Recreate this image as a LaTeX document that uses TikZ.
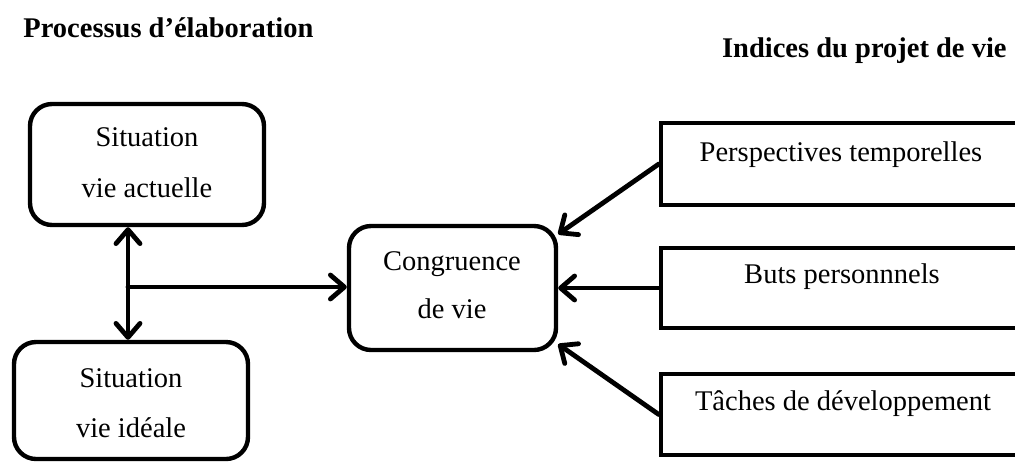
\documentclass[tikz,border=0pt]{standalone}
\usepackage{fontspec}
\setmainfont{Liberation Serif}
\usetikzlibrary{arrows.meta}
\begin{document}
\begin{tikzpicture}[x=0.5pt,y=-0.5pt,
  rbox/.style={draw,line width=2.2pt,rounded corners=11pt,inner sep=0pt},
  sbox/.style={draw,line width=2.2pt,inner sep=0pt},
  txt/.style={anchor=base,inner sep=0pt,font=\fontsize{14.25}{17}\selectfont},
  ttl/.style={inner sep=0pt,font=\fontsize{14.25}{17}\selectfont\bfseries},
  tip/.style={Straight Barb[round,length=7pt,width=12pt]},
  arr/.style={line width=2.4pt,line cap=round,-{Straight Barb[round,length=7pt,width=12pt]}},
  darr/.style={line width=2.4pt,line cap=round,{Straight Barb[round,length=7pt,width=12pt]}-{Straight Barb[round,length=7pt,width=12pt]}}]
\useasboundingbox (0,0) rectangle (1015,462);
\clip (0,0) rectangle (1015,462);
% titles
\node[ttl,anchor=base west] (t1) at (23,37) {Processus d’élaboration};
\node[ttl,anchor=base east] (t2) at (1007,57) {Indices du projet de vie};
% boxes
\node[rbox,minimum width=117pt,minimum height=60.5pt] (A) at (147,164.5) {};
\node[rbox,minimum width=117pt,minimum height=58.5pt] (B) at (131,400.5) {};
\node[rbox,minimum width=103.5pt,minimum height=62pt] (C) at (452.5,288) {};
\node[sbox,minimum width=189.5pt,minimum height=41pt] (D1) at (850.5,164) {};
\node[sbox,minimum width=189.5pt,minimum height=40pt] (D2) at (850.5,288) {};
\node[sbox,minimum width=189.5pt,minimum height=40.5pt] (D3) at (850.5,414.5) {};
% texts
\node[txt] (a1) at (147,146) {Situation};
\node[txt] (a2) at (147,197) {vie actuelle};
\node[txt] (b1) at (131,387) {Situation};
\node[txt] (b2) at (131,437) {vie idéale};
\node[txt] (c1) at (452,270) {Congruence};
\node[txt] (c2) at (452,318) {de vie};
\node[txt] (d1) at (841,161) {Perspectives temporelles};
\node[txt] (d2) at (842,283) {Buts personnnels};
\node[txt] (d3) at (843,410) {Tâches de développement};
% connectors
\coordinate (J) at (128,287);
\draw[darr] (J |- A.south) -- (J |- B.north);
\draw[arr] (J) -- (J -| C.west);
\draw[arr] (D1.west) -- (C.27);
\draw[arr] (D2.west) -- (D2.west -| C.east);
\draw[arr] (D3.west) -- (C.-28);
\end{tikzpicture}
\end{document}
